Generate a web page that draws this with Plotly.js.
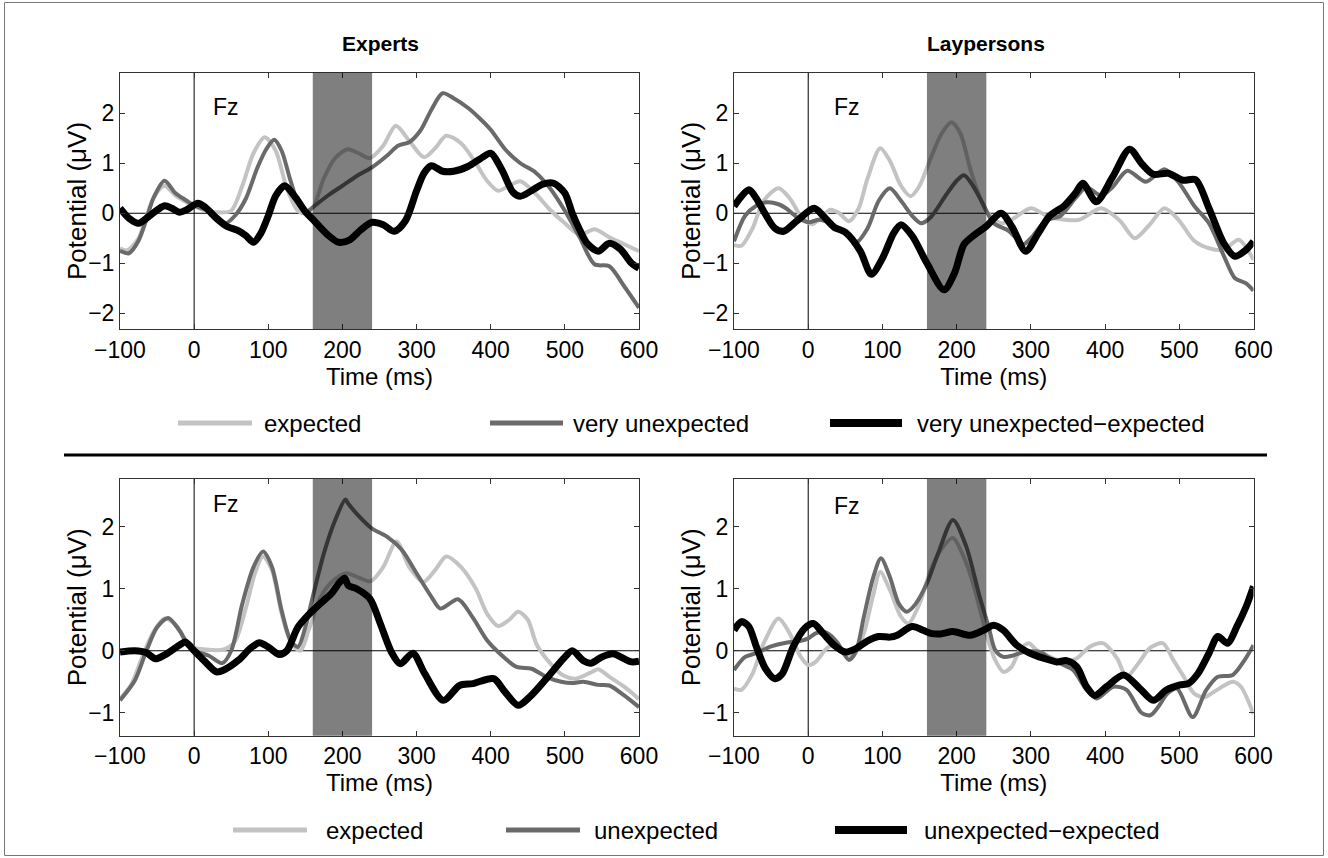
<!DOCTYPE html>
<html><head><meta charset="utf-8">
<script src="https://cdn.plot.ly/plotly-3.0.1.min.js"></script>
<style>html,body{margin:0;padding:0;background:#fff}#chart{width:1328px;height:858px}</style>
</head><body><div id="chart"></div>
<script>
// ---------------- DATA ----------------
// Panel A: Experts, very unexpected condition
const tA_exp = [-100,-90,-75,-65,-55,-40,-25,-10,0,15,30,50,65,80,95,110,125,140,150,160,175,190,207,222,237,255,272,290,310,325,340,360,380,395,410,425,440,460,480,500,520,540,560,580,600];
const vA_exp = [-0.70,-0.74,-0.5,-0.1,0.3,0.55,0.35,0.22,0.15,0.05,0.02,0.05,0.55,1.2,1.52,1.25,0.5,0.05,0.0,0.1,0.7,1.1,1.28,1.2,1.1,1.35,1.75,1.45,1.12,1.3,1.55,1.4,1.0,0.65,0.45,0.55,0.64,0.4,0.07,-0.2,-0.43,-0.32,-0.48,-0.62,-0.76];
const tA_unx = [-100,-88,-75,-65,-55,-40,-25,-10,0,15,30,42,55,70,85,98,108,118,130,142,152,160,180,200,220,240,260,275,290,305,320,335,350,370,385,400,420,440,460,480,500,520,540,560,580,600];
const vA_unx = [-0.75,-0.8,-0.55,-0.15,0.3,0.65,0.4,0.25,0.15,0.08,-0.05,-0.2,-0.05,0.3,0.9,1.3,1.47,1.25,0.65,0.15,0.03,0.12,0.35,0.55,0.75,0.92,1.15,1.35,1.42,1.65,2.07,2.4,2.3,2.1,1.9,1.67,1.27,1.0,0.82,0.5,0.05,-0.48,-1.02,-1.06,-1.46,-1.89];
const tA_dif = [-100,-88,-75,-60,-40,-30,-20,-10,5,15,30,45,60,70,80,90,100,110,122,135,150,160,180,195,210,225,240,255,270,285,300,310,320,335,350,370,385,400,415,430,440,455,470,485,500,510,520,530,545,560,575,590,600];
const vA_dif = [0.1,-0.1,-0.2,-0.05,0.15,0.1,0.02,0.07,0.2,0.12,-0.1,-0.27,-0.35,-0.45,-0.58,-0.4,-0.05,0.35,0.55,0.35,0.03,-0.12,-0.43,-0.58,-0.53,-0.33,-0.18,-0.23,-0.36,-0.15,0.45,0.8,0.95,0.84,0.84,0.94,1.08,1.2,0.87,0.42,0.34,0.45,0.58,0.6,0.4,0.0,-0.33,-0.6,-0.76,-0.6,-0.72,-1.0,-1.1];

// Panel B: Laypersons, very unexpected condition
const tB_exp = [-100,-90,-75,-60,-40,-25,-10,5,15,30,42,55,68,80,97,110,125,138,150,165,180,193,205,220,240,260,275,300,320,340,365,395,420,440,460,480,500,520,540,560,580,600];
const vB_exp = [-0.63,-0.65,-0.3,0.25,0.5,0.3,-0.05,-0.22,-0.12,0.07,0.0,-0.16,0.1,0.7,1.3,1.05,0.55,0.34,0.55,1.1,1.6,1.82,1.6,0.8,0.04,-0.2,-0.12,0.1,-0.04,-0.12,-0.13,0.1,-0.15,-0.5,-0.23,0.1,-0.15,-0.55,-0.7,-0.73,-0.53,-0.93];
const tB_unx = [-100,-85,-70,-55,-40,-30,-15,0,15,30,50,65,80,95,110,125,140,152,165,185,200,210,222,235,250,270,290,300,320,340,360,375,395,410,430,455,480,500,520,540,560,575,590,600];
const vB_unx = [-0.56,-0.05,0.15,0.22,0.18,0.1,-0.08,-0.18,-0.13,-0.2,-0.4,-0.58,-0.3,0.25,0.5,0.25,-0.05,-0.2,-0.08,0.35,0.65,0.76,0.55,0.2,-0.2,-0.35,-0.62,-0.5,-0.15,-0.05,0.3,0.52,0.35,0.52,0.85,0.63,0.88,0.6,0.15,-0.2,-0.85,-1.3,-1.4,-1.55];
const tB_dif = [-100,-80,-70,-60,-45,-33,-15,8,20,35,50,70,85,100,115,125,140,160,183,197,210,225,240,260,275,293,310,325,345,360,370,388,410,433,450,465,485,505,522,540,560,575,590,600];
const vB_dif = [0.14,0.47,0.3,0.04,-0.3,-0.36,-0.15,0.1,-0.05,-0.28,-0.38,-0.75,-1.22,-0.9,-0.4,-0.23,-0.45,-1.0,-1.53,-1.2,-0.62,-0.42,-0.26,0.0,-0.28,-0.76,-0.4,-0.06,0.15,0.4,0.6,0.23,0.72,1.28,0.98,0.78,0.8,0.66,0.67,0.1,-0.6,-0.86,-0.73,-0.56];

// Panel C: Experts, unexpected condition
const tC_exp = [-100,-85,-70,-55,-40,-25,-10,0,15,40,55,70,82,93,105,118,130,143,155,170,185,205,222,238,255,273,290,309,325,340,360,380,395,410,425,437,450,462,480,498,515,535,545,560,580,600];
const vC_exp = [-0.78,-0.55,-0.1,0.3,0.52,0.42,0.15,0.05,0.02,0.02,0.15,0.7,1.25,1.52,1.3,0.6,0.15,0.0,0.35,0.85,1.1,1.25,1.18,1.12,1.35,1.76,1.35,1.11,1.3,1.52,1.35,1.0,0.6,0.4,0.5,0.63,0.5,0.1,-0.2,-0.4,-0.45,-0.35,-0.3,-0.42,-0.58,-0.78];
const tC_unx = [-100,-80,-65,-50,-35,-20,-8,5,20,38,50,65,80,93,105,118,130,140,150,160,175,190,204,208,220,240,260,280,300,320,332,356,375,395,410,435,455,475,495,510,525,545,560,580,600];
const vC_unx = [-0.8,-0.48,-0.02,0.38,0.53,0.33,0.09,-0.02,-0.08,-0.2,0.0,0.76,1.35,1.6,1.35,0.65,0.17,0.06,0.38,0.87,1.57,2.1,2.44,2.37,2.2,1.97,1.84,1.63,1.25,0.87,0.68,0.83,0.55,0.17,-0.02,-0.26,-0.29,-0.42,-0.5,-0.52,-0.5,-0.55,-0.56,-0.72,-0.91];
const tC_dif = [-100,-80,-65,-52,-40,-20,-12,0,15,30,40,60,75,88,100,115,125,140,155,170,185,196,203,208,219,237,251,266,278,295,311,336,358,376,404,419,437,453,475,498,510,525,535,550,565,580,590,600];
const vC_dif = [-0.02,0.0,-0.03,-0.13,-0.07,0.09,0.14,0.0,-0.18,-0.34,-0.31,-0.15,0.03,0.13,0.06,-0.06,0.0,0.38,0.59,0.76,0.92,1.1,1.17,1.05,1.0,0.84,0.44,-0.02,-0.21,-0.04,-0.37,-0.8,-0.56,-0.53,-0.45,-0.66,-0.88,-0.74,-0.45,-0.13,0.0,-0.16,-0.2,-0.1,-0.05,-0.13,-0.18,-0.17];

// Panel D: Laypersons, unexpected condition
const tD_exp = [-100,-90,-75,-60,-40,-25,-10,0,10,25,35,50,60,75,87,97,110,125,135,150,165,180,195,210,222,241,252,263,274,285,297,308,326,344,362,380,398,416,429,445,461,478,492,505,520,534,547,572,583,600];
const vD_exp = [-0.61,-0.63,-0.37,0.12,0.52,0.28,-0.1,-0.23,-0.18,0.04,0.09,-0.07,-0.1,0.28,0.87,1.27,0.98,0.55,0.44,0.76,1.3,1.65,1.82,1.5,1.09,0.23,-0.15,-0.34,-0.26,0.01,0.12,0.01,-0.1,-0.18,-0.12,0.07,0.12,-0.12,-0.42,-0.2,0.05,0.12,-0.15,-0.4,-0.69,-0.75,-0.66,-0.5,-0.58,-1.02];
const tD_unx = [-100,-85,-70,-50,-30,-10,0,10,20,30,40,55,65,75,88,98,110,122,133,145,160,175,195,213,231,243,252,263,275,290,312,326,344,357,375,389,411,429,449,461,472,484,497,518,536,552,572,588,600];
const vD_unx = [-0.31,-0.1,-0.04,0.07,0.13,0.16,0.2,0.28,0.31,0.25,0.12,-0.15,0.01,0.55,1.2,1.49,1.19,0.76,0.63,0.76,1.09,1.57,2.11,1.68,0.87,0.39,0.01,-0.1,-0.08,-0.02,-0.02,-0.12,-0.23,-0.31,-0.63,-0.77,-0.58,-0.63,-1.0,-1.04,-0.9,-0.69,-0.61,-1.07,-0.64,-0.42,-0.39,-0.15,0.09];
const tD_dif = [-100,-90,-80,-70,-58,-45,-35,-20,-5,7,20,35,50,65,80,95,110,120,140,155,165,178,195,218,236,250,263,281,299,317,335,348,362,375,386,402,425,447,465,483,501,512,525,540,552,565,578,590,600];
const vD_dif = [0.33,0.47,0.39,0.07,-0.28,-0.45,-0.37,0.07,0.36,0.44,0.28,0.09,-0.02,0.04,0.16,0.23,0.22,0.25,0.39,0.33,0.28,0.27,0.31,0.25,0.33,0.41,0.33,0.09,-0.04,-0.12,-0.18,-0.16,-0.26,-0.58,-0.72,-0.58,-0.39,-0.61,-0.8,-0.63,-0.55,-0.53,-0.37,-0.04,0.23,0.12,0.4,0.71,1.04];

// Labels
const groupTitles = ['Experts', 'Laypersons'];
const legendTop = ['expected', 'very unexpected', 'very unexpected\u2212expected'];
const legendBottom = ['expected', 'unexpected', 'unexpected\u2212expected'];
const xTicks = [-100, 0, 100, 200, 300, 400, 500, 600];
const yTicksTop = [-2, -1, 0, 1, 2];
const yTicksBottom = [-1, 0, 1, 2];
const xTitle = 'Time (ms)';
const yTitle = 'Potential (\u03bcV)';
const electrode = 'Fz';
const windowStart = 160, windowEnd = 240;

// ---------------- LAYOUT / STYLE ----------------
const W = 1328, H = 858;
const PX = x => x / W, PY = y => 1 - y / H;
const FONT = 'Liberation Sans, Arial, Helvetica, sans-serif';
const colors = ['#c3c3c3', '#6a6a6a', '#000000'];
const widths = [4, 4, 7];

const panels = [
  {ax: '', series: [[tA_exp, vA_exp], [tA_unx, vA_unx], [tA_dif, vA_dif]], xd: [120, 639], yd: [72.7, 329.3], yr: [-2.32, 2.81], yt: yTicksTop, fz: [23, 2.13], ytx: 77},
  {ax: '2', series: [[tB_exp, vB_exp], [tB_unx, vB_unx], [tB_dif, vB_dif]], xd: [734, 1253.5], yd: [72.7, 329.3], yr: [-2.32, 2.81], yt: yTicksTop, fz: [32, 2.13], ytx: 691},
  {ax: '3', series: [[tC_exp, vC_exp], [tC_unx, vC_unx], [tC_dif, vC_dif]], xd: [120, 639], yd: [479, 735.7], yr: [-1.37, 2.77], yt: yTicksBottom, fz: [23, 2.36], ytx: 77},
  {ax: '4', series: [[tD_exp, vD_exp], [tD_unx, vD_unx], [tD_dif, vD_dif]], xd: [734, 1253.5], yd: [479, 735.7], yr: [-1.37, 2.77], yt: yTicksBottom, fz: [32, 2.34], ytx: 691}
];

const traces = [];
const layout = {
  width: W, height: H, margin: {l: 0, r: 0, t: 0, b: 0},
  paper_bgcolor: '#fff', plot_bgcolor: '#fff', showlegend: false,
  font: {family: FONT, size: 23, color: '#000'},
  shapes: [], annotations: []
};

panels.forEach((p, i) => {
  const xa = 'x' + p.ax, ya = 'y' + p.ax;
  const names = i < 2 ? legendTop : legendBottom;
  p.series.forEach((s, k) => {
    traces.push({x: s[0], y: s[1], xaxis: xa, yaxis: ya, type: 'scatter', mode: 'lines', name: names[k],
      line: {color: colors[k], width: widths[k], shape: 'spline', smoothing: 0.8}, hoverinfo: 'skip'});
  });
  const axCommon = {showline: true, mirror: 'ticks', linecolor: '#333', linewidth: 1, ticks: 'inside', ticklen: 5,
    tickcolor: '#333', showgrid: false, zeroline: false, tickfont: {family: FONT, size: 23, color: '#000'}};
  layout['xaxis' + p.ax] = Object.assign({}, axCommon, {domain: [PX(p.xd[0]), PX(p.xd[1])], range: [-100, 600],
    tickvals: xTicks, anchor: ya, title: {text: xTitle, font: {family: FONT, size: 24}, standoff: 4}});
  layout['yaxis' + p.ax] = Object.assign({}, axCommon, {domain: [PY(p.yd[1]), PY(p.yd[0])], range: p.yr,
    tickvals: p.yt, anchor: xa});
  // y-axis title placed as rotated text beside the tick labels
  layout.annotations.push({text: yTitle, xref: 'paper', yref: 'paper', x: PX(p.ytx), y: PY((p.yd[0] + p.yd[1]) / 2),
    xanchor: 'center', yanchor: 'middle', textangle: -90, showarrow: false, font: {family: FONT, size: 26, color: '#000'}});
  // zero lines
  layout.shapes.push({type: 'line', xref: xa, yref: ya + ' domain', x0: 0, x1: 0, y0: 0, y1: 1, line: {color: '#000', width: 1}, layer: 'below'});
  layout.shapes.push({type: 'line', xref: xa + ' domain', yref: ya, x0: 0, x1: 1, y0: 0, y1: 0, line: {color: '#000', width: 1}, layer: 'below'});
  // analysis window
  layout.shapes.push({type: 'rect', xref: xa, yref: ya + ' domain', x0: windowStart, x1: windowEnd, y0: 0, y1: 1,
    fillcolor: 'rgba(0,0,0,0.5)', line: {width: 0}, layer: 'above'});
  layout.annotations.push({text: electrode, xref: xa, yref: ya, x: p.fz[0], y: p.fz[1], xanchor: 'left', yanchor: 'middle',
    showarrow: false, font: {family: FONT, size: 23, color: '#000'}});
});

// group titles
layout.annotations.push({text: '<b>' + groupTitles[0] + '</b>', xref: 'paper', yref: 'paper', x: PX(380), y: PY(43),
  xanchor: 'center', yanchor: 'middle', showarrow: false, font: {family: FONT, size: 21, color: '#000'}});
layout.annotations.push({text: '<b>' + groupTitles[1] + '</b>', xref: 'paper', yref: 'paper', x: PX(986), y: PY(43),
  xanchor: 'center', yanchor: 'middle', showarrow: false, font: {family: FONT, size: 21, color: '#000'}});

// legends (drawn as line samples + labels)
function addLegend(names, yPix, segs, textX) {
  names.forEach((n, k) => {
    layout.shapes.push({type: 'line', xref: 'paper', yref: 'paper', x0: PX(segs[k][0]), x1: PX(segs[k][1]), y0: PY(yPix), y1: PY(yPix),
      line: {color: colors[k], width: k === 2 ? 8 : 5}});
    layout.annotations.push({text: n, xref: 'paper', yref: 'paper', x: PX(textX[k]), y: PY(yPix), xanchor: 'left', yanchor: 'middle',
      showarrow: false, font: {family: FONT, size: 24, color: '#000'}});
  });
}
addLegend(legendTop, 423, [[178, 252], [490, 563], [830, 902]], [262, 571, 915]);
addLegend(legendBottom, 830, [[233, 307], [506, 580], [835, 907]], [324, 592, 922]);

// separator and frame
layout.shapes.push({type: 'line', xref: 'paper', yref: 'paper', x0: PX(64), x1: PX(1267), y0: PY(455), y1: PY(455), line: {color: '#000', width: 3}});
layout.shapes.push({type: 'rect', xref: 'paper', yref: 'paper', x0: PX(4.5), x1: PX(1323.5), y0: PY(855.5), y1: PY(2.5), line: {color: '#777', width: 1}});

Plotly.newPlot('chart', traces, layout, {staticPlot: true, displayModeBar: false});
</script>
</body></html>
